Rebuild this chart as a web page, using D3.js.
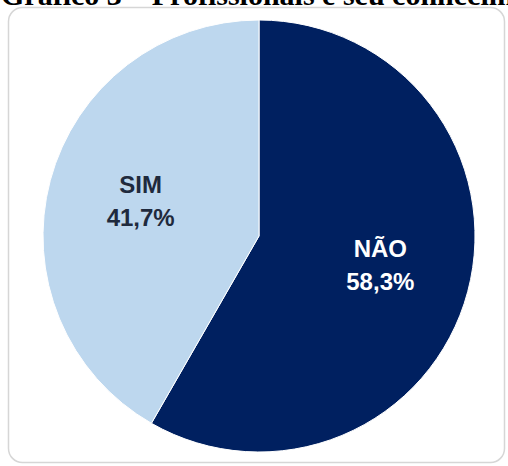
<!DOCTYPE html>
<html><head><meta charset="utf-8">
<script src="https://cdn.jsdelivr.net/npm/d3@7"></script>
<style>html,body{margin:0;padding:0;background:#fff;overflow:hidden}</style>
</head><body>
<svg id="c" width="508" height="466"></svg>
<script>
const categories = ["NÃO", "SIM"];
const values = [58.3, 41.7];
const valueLabels = ["58,3%", "41,7%"];
const colors = ["#002060", "#BDD7EE"];
const labelColors = ["#ffffff", "#1f2a3d"];
const title = "Gráfico 3 – Profissionais e seu conhecimento";

const svg = d3.select("#c");
svg.append("rect").attr("x", 8.5).attr("y", 7.5).attr("width", 496).attr("height", 455)
  .attr("rx", 14).attr("fill", "#fff").attr("stroke", "#d6d6d6").attr("stroke-width", 1.5);

svg.append("text").attr("x", 1).attr("y", 5)
  .attr("font-family", "Liberation Serif").attr("font-weight", "bold").attr("font-size", 30)
  .attr("fill", "#000").text(title);

const cx = 259, cy = 236, r = 216;
const g = svg.append("g").attr("transform", `translate(${cx},${cy})`);
const pie = d3.pie().sort(null).value(d => d)(values);
const arc = d3.arc().innerRadius(0).outerRadius(r);
const labelArc = d3.arc().innerRadius(124).outerRadius(124);
g.selectAll("path").data(pie).join("path")
  .attr("d", arc).attr("fill", (d, i) => colors[i])
  .attr("stroke", "#fff").attr("stroke-width", 1);
const lbl = g.selectAll("text.l").data(pie).join("text").attr("class", "l")
  .attr("transform", d => { const c = labelArc.centroid(d); return `translate(${c[0] + 1.5},${c[1]})`; })
  .attr("text-anchor", "middle")
  .attr("font-family", "Liberation Sans").attr("font-weight", "bold").attr("font-size", 24)
  .attr("fill", (d, i) => labelColors[i]);
lbl.append("tspan").attr("x", 0).attr("y", -11).text((d, i) => categories[i]);
lbl.append("tspan").attr("x", 0).attr("y", 22).text((d, i) => valueLabels[i]);
</script>
</body></html>
